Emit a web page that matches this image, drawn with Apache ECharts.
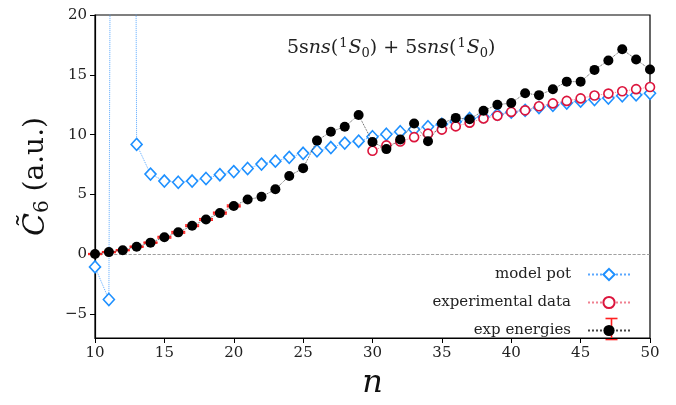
<!DOCTYPE html>
<html>
<head>
<meta charset="utf-8">
<script src="https://cdn.jsdelivr.net/npm/echarts@6/dist/echarts.min.js"></script>
<style>
  html, body { margin: 0; padding: 0; background: #fff; }
  #main { width: 676px; height: 405px; }
</style>
</head>
<body>
<div id="main"></div>
<script>
// principal quantum number
var nValues = [10, 11, 12, 13, 14, 15, 16, 17, 18, 19, 20, 21, 22, 23, 24, 25, 26, 27, 28, 29,
               30, 31, 32, 33, 34, 35, 36, 37, 38, 39, 40, 41, 42, 43, 44, 45, 46, 47, 48, 49, 50];
// model pot (n = 10..50), n=12 goes far off the top
var modelPot = [-1.06, -3.78, 300, 9.18, 6.7, 6.12, 6.02, 6.12, 6.33, 6.65, 6.91, 7.17, 7.54, 7.78, 8.1,
                8.44, 8.65, 8.92, 9.29, 9.45, 9.82, 10.03, 10.24, 10.45, 10.66, 10.87, 11.08, 11.35, 11.48,
                11.69, 11.88, 12.03, 12.27, 12.45, 12.64, 12.8, 12.93, 13.06, 13.25, 13.32, 13.46];
// experimental data (n = 30..50)
var expN = [30, 31, 32, 33, 34, 35, 36, 37, 38, 39, 40, 41, 42, 43, 44, 45, 46, 47, 48, 49, 50];
var expData = [8.65, 9.1, 9.42, 9.79, 10.08, 10.42, 10.69, 11.0, 11.35, 11.58, 11.9, 12.03, 12.37,
               12.61, 12.82, 13.03, 13.27, 13.43, 13.62, 13.8, 13.98];
// exp energies (n = 10..50)
var expEnergies = [0.02, 0.18, 0.34, 0.63, 0.97, 1.42, 1.83, 2.39, 2.91, 3.44, 4.04, 4.57, 4.8, 5.43, 6.54,
                   7.2, 9.5, 10.24, 10.66, 11.64, 9.39, 8.79, 9.6, 10.93, 9.45, 10.95, 11.4, 11.29, 12.0,
                   12.5, 12.64, 13.46, 13.3, 13.8, 14.43, 14.43, 15.41, 16.2, 17.13, 16.28, 15.44];
// error bars on exp energies (only the low n have visible ones)
var errN = [10, 11, 12, 13, 14, 15, 16, 17, 18, 19, 20];
var errVal = [0.03, 0.03, 0.03, 0.04, 0.04, 0.06, 0.06, 0.06, 0.06, 0.07, 0.07];

var yTicks = [-5, 0, 5, 10, 15, 20];

var serif = 'DejaVu Serif';

function pairs(xs, ys) {
    return xs.map(function (x, i) { return [x, ys[i]]; });
}
var errData = errN.map(function (n, i) {
    return [n, expEnergies[nValues.indexOf(n)], errVal[i]];
});

var myChart = echarts.init(document.getElementById('main'));
var option = {
    animation: false,
    title: {
        left: 282,
        top: 32,
        text: '5s{i|ns}({sup|1}{i|S}{sub|0}) + 5s{i|ns}({sup|1}{i|S}{sub|0})',
        textStyle: {
            fontFamily: serif, fontSize: 19, fontWeight: 'normal', color: '#222',
            rich: {
                i: { fontFamily: serif, fontSize: 19, fontStyle: 'italic', color: '#222' },
                sup: { fontFamily: serif, fontSize: 13, verticalAlign: 'top', padding: [0, 1, 8, 1], color: '#222' },
                sub: { fontFamily: serif, fontSize: 13, padding: [10, 0, 0, 0], color: '#222' }
            }
        }
    },
    grid: {
        left: 95, right: 26, top: 15, bottom: 48,
        show: true, borderColor: '#000', borderWidth: 1.2, backgroundColor: 'transparent'
    },
    legend: {
        orient: 'vertical',
        right: 40,
        top: 262,
        align: 'right',
        itemWidth: 42,
        itemHeight: 14,
        itemGap: 13,
        textStyle: { fontFamily: serif, fontSize: 15, color: '#222', padding: [0, 12, 0, 0] },
        data: ['model pot', 'experimental data', 'exp energies']
    },
    xAxis: {
        type: 'value',
        min: 10, max: 50, interval: 5,
        name: 'n',
        nameLocation: 'middle',
        nameGap: 30,
        nameTextStyle: { fontFamily: serif, fontStyle: 'italic', fontSize: 32, color: '#111' },
        axisLine: { onZero: false, lineStyle: { color: '#000', width: 1.2 } },
        axisTick: { length: 5, lineStyle: { color: '#000' } },
        axisLabel: { fontFamily: serif, fontSize: 15, color: '#222', margin: 8 },
        splitLine: { show: false }
    },
    yAxis: {
        type: 'value',
        min: -7, max: 20,
        name: '{c|C\u0303}{s|6}{t| (a.u.)}',
        nameLocation: 'middle',
        nameGap: 42,
        nameRotate: 90,
        nameTextStyle: {
            rich: {
                c: { fontFamily: serif, fontStyle: 'italic', fontSize: 30, color: '#111' },
                s: { fontFamily: serif, fontSize: 20, color: '#111', padding: [14, 0, 0, 0] },
                t: { fontFamily: serif, fontSize: 28, color: '#111' }
            }
        },
        axisLine: { onZero: false, lineStyle: { color: '#000', width: 1.2 } },
        axisTick: { length: 5, lineStyle: { color: '#000' }, customValues: yTicks },
        axisLabel: {
            fontFamily: serif, fontSize: 15, color: '#222', margin: 8, customValues: yTicks,
            formatter: function (v) { return v < 0 ? '\u2212' + (-v) : String(v); }
        },
        splitLine: { show: false }
    },
    series: [
        {
            name: 'model pot',
            type: 'line',
            data: pairs(nValues, modelPot),
            symbol: 'diamond',
            symbolSize: [11, 12],
            itemStyle: { color: '#fff', borderColor: '#1e90ff', borderWidth: 1.6 },
            lineStyle: { color: '#5aa8ff', width: 1, type: 'dotted' },
            markLine: {
                silent: true,
                symbol: 'none',
                label: { show: false },
                lineStyle: { color: '#888', type: 'dashed', width: 0.8 },
                data: [{ yAxis: 0 }]
            },
            z: 3
        },
        {
            name: 'experimental data',
            type: 'line',
            data: pairs(expN, expData),
            symbol: 'circle',
            symbolSize: 9,
            itemStyle: { color: '#fff', borderColor: '#dc143c', borderWidth: 1.6 },
            lineStyle: { color: '#f08090', width: 1, type: 'dotted' },
            z: 4
        },
        {
            name: 'exp energies errors',
            type: 'custom',
            data: errData,
            renderItem: function (params, api) {
                var top = api.coord([api.value(0), api.value(1) + api.value(2)]);
                var bot = api.coord([api.value(0), api.value(1) - api.value(2)]);
                var hw = 7;
                var st = { stroke: '#ff2020', lineWidth: 1.6 };
                return {
                    type: 'group',
                    children: [
                        { type: 'line', shape: { x1: top[0], y1: top[1], x2: bot[0], y2: bot[1] }, style: st },
                        { type: 'line', shape: { x1: top[0] - hw, y1: top[1], x2: top[0] + hw, y2: top[1] }, style: st },
                        { type: 'line', shape: { x1: bot[0] - hw, y1: bot[1], x2: bot[0] + hw, y2: bot[1] }, style: st }
                    ]
                };
            },
            z: 5
        },
        {
            name: 'exp energies',
            type: 'line',
            data: pairs(nValues, expEnergies),
            symbol: 'circle',
            symbolSize: 10,
            itemStyle: { color: '#000', borderWidth: 0 },
            lineStyle: { color: '#444', width: 0.9, type: 'dotted' },
            z: 6
        }
    ],
    graphic: [
        // red error bar on the legend marker of "exp energies"
        {
            type: 'group', left: 603, top: 316, z: 1,
            children: [
                { type: 'line', shape: { x1: 6, y1: 0, x2: 6, y2: 21 }, style: { stroke: '#ff2020', lineWidth: 1.6 } },
                { type: 'line', shape: { x1: 0, y1: 0, x2: 12, y2: 0 }, style: { stroke: '#ff2020', lineWidth: 1.6 } },
                { type: 'line', shape: { x1: 0, y1: 21, x2: 12, y2: 21 }, style: { stroke: '#ff2020', lineWidth: 1.6 } }
            ]
        }
    ]
};

myChart.setOption(option);
window.addEventListener('resize', function () {
    myChart.resize();
});
</script>
</body>
</html>
